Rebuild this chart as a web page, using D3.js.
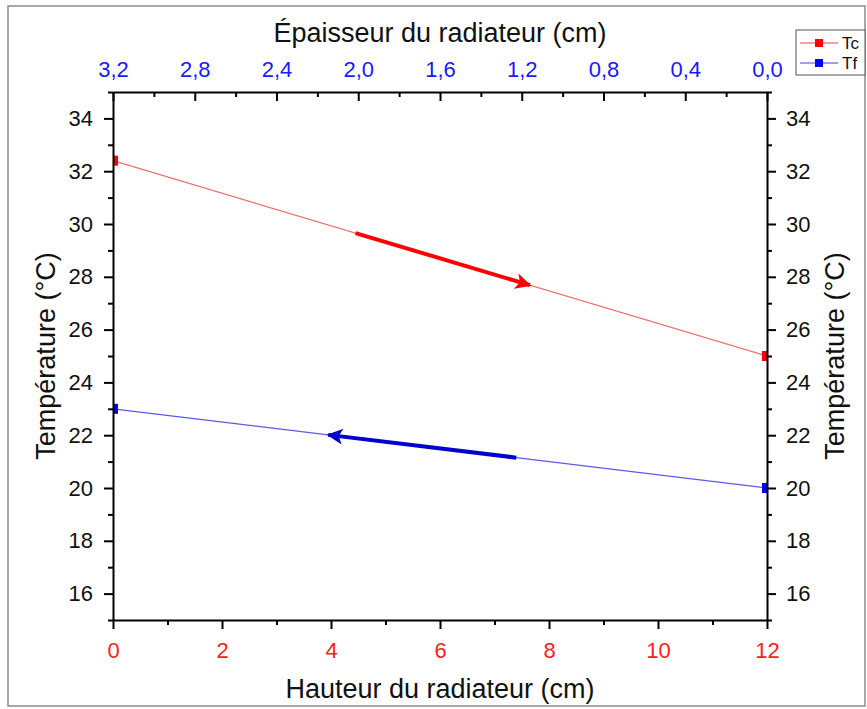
<!DOCTYPE html>
<html><head><meta charset="utf-8">
<script src="https://cdn.jsdelivr.net/npm/d3@7"></script>
<style>body{margin:0;background:#fff;font-family:"Liberation Sans",Arial,sans-serif;}</style>
</head><body>
<svg id="c" width="867" height="709"></svg>
<script>
const seriesNames = ["Tc", "Tf"];
const heights = [0, 12];
const tcValues = [32.4, 25.0];
const tfValues = [23.0, 20.0];
const bottomTicks = [0, 2, 4, 6, 8, 10, 12];
const leftTicks = [16, 18, 20, 22, 24, 26, 28, 30, 32, 34];
const topTicks = [3.2, 2.8, 2.4, 2.0, 1.6, 1.2, 0.8, 0.4, 0.0];
const arrowSeries = ["Tc", "Tf"];
const arrowFrom = [4.45, 7.4];
const arrowTo = [7.65, 3.95];

const svg = d3.select("#c");
const m = {l:113, r:767, t:92, b:620};
const x = d3.scaleLinear().domain([0,12]).range([m.l,m.r]);
const xt = d3.scaleLinear().domain([3.2,0]).range([m.l,m.r]);
const y = d3.scaleLinear().domain([15,35]).range([m.b,m.t]);
const font = '"Liberation Sans",Arial,sans-serif';

svg.append("rect").attr("x",8).attr("y",6).attr("width",857).attr("height",700)
  .attr("fill","none").attr("stroke","#8a8a8a").attr("stroke-width",1.5);

const colors = {Tc:{line:"#f06a6a", mark:"#ff0000", arrow:"#ff0000", leg:"#f08080"},
                Tf:{line:"#5a5ae6", mark:"#0000ff", arrow:"#0000cc", leg:"#8080e0"}};
const data = {Tc: heights.map((h,i)=>[h,tcValues[i]]), Tf: heights.map((h,i)=>[h,tfValues[i]])};

svg.append("clipPath").attr("id","clip").append("rect")
  .attr("x",m.l).attr("y",m.t).attr("width",m.r-m.l).attr("height",m.b-m.t);
const plot = svg.append("g").attr("clip-path","url(#clip)");
const line = d3.line().x(d=>x(d[0])).y(d=>y(d[1]));
seriesNames.forEach(s=>{
  plot.append("path").attr("d",line(data[s])).attr("fill","none")
    .attr("stroke",colors[s].line).attr("stroke-width",1.2);
  plot.selectAll(null).data(data[s]).enter().append("rect")
    .attr("x",d=>x(d[0])-5).attr("y",d=>y(d[1])-5).attr("width",10).attr("height",10)
    .attr("fill",colors[s].mark);
});

// arrows
const defs = svg.append("defs");
arrowSeries.forEach((s,i)=>{
  defs.append("marker").attr("id","ah"+i).attr("viewBox","0 0 10 10").attr("refX",9).attr("refY",5)
    .attr("markerWidth",4.5).attr("markerHeight",4).attr("markerUnits","strokeWidth").attr("orient","auto")
    .append("path").attr("d","M0,0 L10,5 L0,10 L2.5,5 Z").attr("fill",colors[s].arrow);
  const d = data[s];
  const f = v => d[0][1] + (d[1][1]-d[0][1])*(v-d[0][0])/(d[1][0]-d[0][0]);
  svg.append("line").attr("x1",x(arrowFrom[i])).attr("y1",y(f(arrowFrom[i])))
    .attr("x2",x(arrowTo[i])).attr("y2",y(f(arrowTo[i])))
    .attr("stroke",colors[s].arrow).attr("stroke-width",4).attr("marker-end","url(#ah"+i+")");
});

// axes
function styleAxis(g, col){
  g.select(".domain").attr("stroke","#000").attr("stroke-width",2);
  g.selectAll(".tick line").attr("stroke","#000").attr("stroke-width",2);
  g.selectAll(".tick text").attr("font-family",font).attr("font-size",22).attr("fill",col);
}
const minorX = d3.range(1,12,2), minorY = d3.range(15,36,2), minorTop = d3.range(3.0,0,-0.4);
const minorStyle = g=>{g.select(".domain").remove(); g.selectAll("line").attr("stroke","#000").attr("stroke-width",2);};

// bottom
const gb = svg.append("g").attr("transform",`translate(0,${m.b})`)
  .call(d3.axisBottom(x).tickValues(bottomTicks).tickSize(9).tickPadding(13).tickSizeOuter(0));
styleAxis(gb,"#ff2020");
svg.append("g").attr("transform",`translate(0,${m.b})`)
  .call(d3.axisBottom(x).tickValues(minorX).tickSize(5).tickFormat("").tickSizeOuter(0)).call(minorStyle);
// top (ticks inward)
const gt = svg.append("g").attr("transform",`translate(0,${m.t})`)
  .call(d3.axisTop(xt).tickValues(topTicks).tickSize(0).tickPadding(15).tickSizeOuter(0).tickFormat(d=>d3.format(".1f")(d).replace(".",",")));
styleAxis(gt,"#1a1aff");
svg.append("g").attr("transform",`translate(0,${m.t})`)
  .call(d3.axisBottom(xt).tickValues(topTicks).tickSize(9).tickFormat("").tickSizeOuter(0)).call(minorStyle);
svg.append("g").attr("transform",`translate(0,${m.t})`)
  .call(d3.axisBottom(xt).tickValues(minorTop).tickSize(5).tickFormat("").tickSizeOuter(0)).call(minorStyle);
// left
const gl = svg.append("g").attr("transform",`translate(${m.l},0)`)
  .call(d3.axisLeft(y).tickValues(leftTicks).tickSize(9).tickPadding(11).tickSizeOuter(0));
styleAxis(gl,"#111");
svg.append("g").attr("transform",`translate(${m.l},0)`)
  .call(d3.axisLeft(y).tickValues(minorY).tickSize(5).tickFormat("").tickSizeOuter(0)).call(minorStyle);
// right
const gr = svg.append("g").attr("transform",`translate(${m.r},0)`)
  .call(d3.axisRight(y).tickValues(leftTicks).tickSize(9).tickPadding(10).tickSizeOuter(0));
styleAxis(gr,"#111");
svg.append("g").attr("transform",`translate(${m.r},0)`)
  .call(d3.axisRight(y).tickValues(minorY).tickSize(5).tickFormat("").tickSizeOuter(0)).call(minorStyle);

// titles
svg.append("text").attr("x",(m.l+m.r)/2).attr("y",42).attr("text-anchor","middle")
  .attr("font-family",font).attr("font-size",27).attr("fill","#111").text("Épaisseur du radiateur (cm)");
svg.append("text").attr("x",(m.l+m.r)/2).attr("y",698).attr("text-anchor","middle")
  .attr("font-family",font).attr("font-size",27).attr("fill","#111").text("Hauteur du radiateur (cm)");
svg.append("text").attr("transform",`translate(55,${(m.t+m.b)/2}) rotate(-90)`).attr("text-anchor","middle")
  .attr("font-family",font).attr("font-size",27).attr("fill","#111").text("Température (°C)");
svg.append("text").attr("transform",`translate(844,${(m.t+m.b)/2}) rotate(-90)`).attr("text-anchor","middle")
  .attr("font-family",font).attr("font-size",27).attr("fill","#111").text("Température (°C)");

// legend
const lg = svg.append("g");
lg.append("rect").attr("x",796).attr("y",30).attr("width",69).attr("height",45)
  .attr("fill","#fff").attr("stroke","#555").attr("stroke-width",1);
seriesNames.forEach((s,i)=>{
  const yy = 43 + i*20;
  lg.append("line").attr("x1",800).attr("x2",838).attr("y1",yy).attr("y2",yy)
    .attr("stroke",colors[s].leg).attr("stroke-width",1.5);
  lg.append("rect").attr("x",815).attr("y",yy-4).attr("width",8).attr("height",8).attr("fill",colors[s].mark);
  lg.append("text").attr("x",842).attr("y",yy+6).attr("font-family",font).attr("font-size",17)
    .attr("fill","#111").text(s);
});
</script>
</body></html>
